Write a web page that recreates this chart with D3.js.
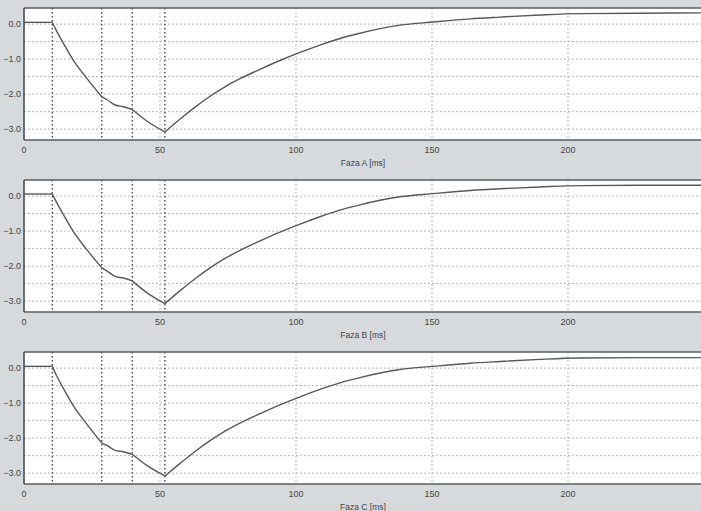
<!DOCTYPE html>
<html>
<head>
<meta charset="utf-8">
<script src="https://cdn.jsdelivr.net/npm/d3@7"></script>
<style>
  html, body { margin: 0; padding: 0; background: #d6dadd; }
  svg { display: block; }
  text { font-family: "Liberation Sans Narrow", "Arial Narrow", "Liberation Sans", sans-serif; fill: #444; }
</style>
</head>
<body>
<svg id="chart" width="701" height="511"></svg>
<script>
// Phase current traces, time in ms, value in per-unit
const timeA = [0, 10.4, 12.0, 14.5, 18.1, 23.1, 28.6, 30.5, 33.5, 36.5, 39.8, 45.0, 51.8, 57.4, 62.9, 68.4, 73.9, 79.4, 86.8, 94.1, 101.5, 108.8, 116.2, 123.5, 130.9, 138.2, 150.4, 164.0, 175.0, 189.7, 204.4, 226.5, 250.0];
const valueA = [0.05, 0.05, -0.20, -0.55, -1.03, -1.55, -2.08, -2.16, -2.31, -2.36, -2.44, -2.76, -3.08, -2.71, -2.37, -2.06, -1.79, -1.56, -1.29, -1.04, -0.81, -0.60, -0.41, -0.26, -0.13, -0.03, 0.06, 0.15, 0.20, 0.26, 0.30, 0.31, 0.32];

const timeB = [0, 10.4, 12.0, 14.5, 18.1, 23.1, 28.6, 30.5, 33.5, 36.5, 39.8, 45.0, 51.8, 57.4, 62.9, 68.4, 73.9, 79.4, 86.8, 94.1, 101.5, 108.8, 116.2, 123.5, 130.9, 138.2, 150.4, 164.0, 175.0, 189.7, 204.4, 226.5, 250.0];
const valueB = [0.06, 0.06, -0.18, -0.53, -1.01, -1.53, -2.05, -2.14, -2.29, -2.34, -2.42, -2.75, -3.07, -2.70, -2.36, -2.05, -1.78, -1.55, -1.28, -1.03, -0.80, -0.59, -0.40, -0.25, -0.12, -0.02, 0.07, 0.16, 0.21, 0.26, 0.30, 0.31, 0.31];

const timeC = [0, 10.4, 12.0, 14.5, 18.1, 23.1, 28.6, 30.5, 33.5, 36.5, 39.8, 45.0, 51.8, 57.4, 62.9, 68.4, 73.9, 79.4, 86.8, 94.1, 101.5, 108.8, 116.2, 123.5, 130.9, 138.2, 150.4, 164.0, 175.0, 189.7, 204.4, 226.5, 250.0];
const valueC = [0.05, 0.05, -0.22, -0.58, -1.07, -1.60, -2.14, -2.21, -2.35, -2.39, -2.46, -2.77, -3.08, -2.72, -2.38, -2.07, -1.80, -1.57, -1.30, -1.05, -0.82, -0.61, -0.42, -0.27, -0.14, -0.04, 0.05, 0.14, 0.19, 0.25, 0.29, 0.30, 0.30];

// Event markers (ms); the trace changes slope at each of them
const markers = [10.4, 28.6, 39.8, 51.8];

const xTicks = [0, 50, 100, 150, 200];
const yTicks = [0, -1, -2, -3];
const yGrid = [0, -0.5, -1, -1.5, -2, -2.5, -3];
const panelTitles = ["Faza A [ms]", "Faza B [ms]", "Faza C [ms]"];

const series = [
  { t: timeA, v: valueA },
  { t: timeB, v: valueB },
  { t: timeC, v: valueC }
];

const svg = d3.select("#chart");
const W = 701;
const plotLeft = 24, plotRight = 704;
const plotH = 132, panelStep = 172, firstTop = 8;

const x = d3.scaleLinear().domain([0, 250]).range([plotLeft, plotRight]);

// split a trace at the marker times so each interval is smoothed on its own
function splitAtMarkers(pts) {
  const bounds = [0, ...markers, Infinity];
  const segs = [];
  for (let b = 0; b < bounds.length - 1; b++) {
    const seg = pts.filter(p => p[0] >= bounds[b] && p[0] <= bounds[b + 1]);
    if (seg.length > 1) segs.push(seg);
  }
  return segs;
}

series.forEach((s, i) => {
  const top = firstTop + i * panelStep;
  const bottom = top + plotH;
  const y = d3.scaleLinear().domain([-3.31, 0.46]).range([bottom, top]);
  const g = svg.append("g");

  // plot background
  g.append("rect")
    .attr("x", plotLeft).attr("y", top)
    .attr("width", W - plotLeft).attr("height", plotH)
    .attr("fill", "#ffffff");

  // horizontal grid
  g.selectAll(".hg").data(yGrid).enter().append("line")
    .attr("x1", plotLeft).attr("x2", W)
    .attr("y1", d => y(d)).attr("y2", d => y(d))
    .attr("stroke", "#a9adb0").attr("stroke-width", 0.9)
    .attr("stroke-dasharray", "2,2");

  // vertical grid
  g.selectAll(".vg").data(xTicks.filter(d => d > 0)).enter().append("line")
    .attr("x1", d => x(d)).attr("x2", d => x(d))
    .attr("y1", top).attr("y2", bottom)
    .attr("stroke", "#b5b8bb").attr("stroke-width", 0.9)
    .attr("stroke-dasharray", "2,2");

  // event markers
  g.selectAll(".mk").data(markers).enter().append("line")
    .attr("x1", d => x(d)).attr("x2", d => x(d))
    .attr("y1", top).attr("y2", bottom)
    .attr("stroke", "#3a3d40").attr("stroke-width", 1.3)
    .attr("stroke-dasharray", "1.5,2.5");

  // trace
  const pts = s.t.map((t, k) => [t, s.v[k]]);
  const line = d3.line().x(d => x(d[0])).y(d => y(d[1])).curve(d3.curveMonotoneX);
  g.selectAll(".trace").data(splitAtMarkers(pts)).enter().append("path")
    .attr("fill", "none")
    .attr("stroke", "#55595c")
    .attr("stroke-width", 1.4)
    .attr("stroke-linejoin", "round")
    .attr("d", line);

  // frame
  g.append("line").attr("x1", plotLeft).attr("x2", W).attr("y1", top).attr("y2", top)
    .attr("stroke", "#5a5e61").attr("stroke-width", 1.6);
  g.append("line").attr("x1", plotLeft).attr("x2", W).attr("y1", bottom).attr("y2", bottom)
    .attr("stroke", "#5a5e61").attr("stroke-width", 1.6);
  g.append("line").attr("x1", plotLeft).attr("x2", plotLeft).attr("y1", top).attr("y2", bottom)
    .attr("stroke", "#4a4e51").attr("stroke-width", 1.6);

  // y tick labels
  g.selectAll(".yl").data(yTicks).enter().append("text")
    .attr("x", 21).attr("y", d => y(d))
    .attr("dy", "0.35em")
    .attr("text-anchor", "end")
    .attr("font-size", 9)
    .text(d => d3.format(".1f")(d));

  // x tick labels
  g.selectAll(".xl").data(xTicks).enter().append("text")
    .attr("x", d => x(d)).attr("y", bottom + 13)
    .attr("text-anchor", "middle")
    .attr("font-size", 9)
    .text(d => d);

  // axis title
  g.append("text")
    .attr("x", 363).attr("y", bottom + 26)
    .attr("text-anchor", "middle")
    .attr("font-size", 8.5)
    .text(panelTitles[i]);
});
</script>
</body>
</html>
